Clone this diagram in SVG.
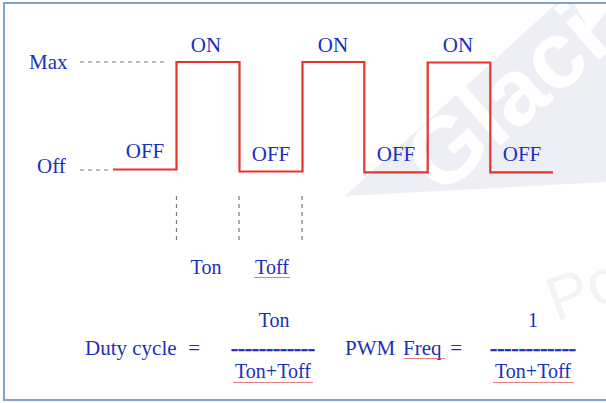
<svg xmlns="http://www.w3.org/2000/svg" width="606" height="403" viewBox="0 0 606 403">
  <defs>
    <style>
      .lbl { font-family: "Liberation Serif", "Times New Roman", serif; fill: #1b2fbe; font-size: 21px; }
      .sm { font-size: 20px; }
      .bar { font-weight: bold; font-size: 20px; stroke: #1b2fbe; stroke-width: 0.6; }
      .wave { fill: none; stroke: #e8332b; stroke-width: 2.2; stroke-linejoin: miter; }
      .guide { fill: none; stroke: #7a7a7a; stroke-width: 1.2; stroke-dasharray: 4 4; }
    </style>
    <pattern id="wavy" width="4" height="3" patternUnits="userSpaceOnUse">
      <path d="M0 2 L1 1 L2 2 L3 1 L4 2" fill="none" stroke="#e06060" stroke-width="0.8"/>
    </pattern>
    <clipPath id="page">
      <rect x="0" y="0" width="606" height="403"/>
    </clipPath>
  </defs>

  <rect x="0" y="0" width="606" height="403" fill="#ffffff"/>

  <!-- background watermark -->
  <g id="watermark" clip-path="url(#page)">
    <polygon points="345,196 557,3 574,3 590,32 606,12 606,182" fill="#edeff4"/>
    <text x="440" y="198" transform="rotate(-41 440 198)" font-family="Liberation Sans, Arial, sans-serif" font-weight="bold" font-size="94" fill="#ffffff">Glaci</text>
    <text x="556" y="322" transform="rotate(-20 556 322)" font-family="Liberation Sans, Arial, sans-serif" font-size="62" fill="#f3f3f3">Po</text>
  </g>

  <!-- frame -->
  <rect x="4" y="3" width="640" height="397" fill="none" stroke="#7fa2d2" stroke-width="2"/>

  <!-- level guides and period markers -->
  <g id="connectors">
    <line class="guide" x1="80" y1="62" x2="164" y2="62"/>
    <line class="guide" x1="80" y1="170" x2="112" y2="170"/>
    <line class="guide" x1="176.5" y1="196" x2="176.5" y2="241"/>
    <line class="guide" x1="239" y1="196" x2="239" y2="241"/>
    <line class="guide" x1="302" y1="196" x2="302" y2="241"/>
  </g>

  <!-- PWM waveform -->
  <g id="waveform">
    <path class="wave" d="M113 169.5 H176.5 V62 H239.5 V171.5 H302.5 V62 H364.3 V172.3 H427.7 V62.5 H490.3 V172.3 H553"/>
  </g>

  <!-- axis labels -->
  <g id="axis-labels">
    <text class="lbl" x="29" y="69">Max</text>
    <text class="lbl" x="37" y="173">Off</text>
  </g>

  <!-- state labels -->
  <g id="state-labels">
    <text class="lbl" x="206" y="52" text-anchor="middle">ON</text>
    <text class="lbl" x="333" y="52" text-anchor="middle">ON</text>
    <text class="lbl" x="458" y="52" text-anchor="middle">ON</text>
    <text class="lbl" x="145" y="158" text-anchor="middle">OFF</text>
    <text class="lbl" x="271" y="161" text-anchor="middle">OFF</text>
    <text class="lbl" x="396" y="161" text-anchor="middle">OFF</text>
    <text class="lbl" x="522" y="161" text-anchor="middle">OFF</text>
  </g>

  <!-- period labels -->
  <g id="period-labels">
    <text class="lbl sm" x="206" y="274" text-anchor="middle">Ton</text>
    <text class="lbl sm" x="272" y="274" text-anchor="middle">Toff</text>
    <rect x="254" y="276" width="36" height="3" fill="url(#wavy)"/>
  </g>

  <!-- duty cycle formula -->
  <g id="duty-cycle">
    <text class="lbl" x="85" y="355">Duty cycle</text>
    <text class="lbl" x="200" y="355" text-anchor="end">=</text>
    <text class="lbl sm" x="274" y="327" text-anchor="middle">Ton</text>
    <text class="lbl bar" x="231" y="355" textLength="84" lengthAdjust="spacingAndGlyphs">------------</text>
    <text class="lbl sm" x="273" y="378" text-anchor="middle">Ton+Toff</text>
    <rect x="233" y="380" width="80" height="3" fill="url(#wavy)"/>
  </g>

  <!-- PWM frequency formula -->
  <g id="pwm-freq">
    <text class="lbl" x="345" y="355">PWM</text>
    <text class="lbl" x="403" y="355">Freq</text>
    <text class="lbl" x="462" y="355" text-anchor="end">=</text>
    <rect x="404" y="356" width="41" height="3" fill="url(#wavy)"/>
    <text class="lbl sm" x="533" y="327" text-anchor="middle">1</text>
    <text class="lbl bar" x="490" y="355" textLength="86" lengthAdjust="spacingAndGlyphs">------------</text>
    <text class="lbl sm" x="533" y="378" text-anchor="middle">Ton+Toff</text>
    <rect x="493" y="380" width="81" height="3" fill="url(#wavy)"/>
  </g>
</svg>
